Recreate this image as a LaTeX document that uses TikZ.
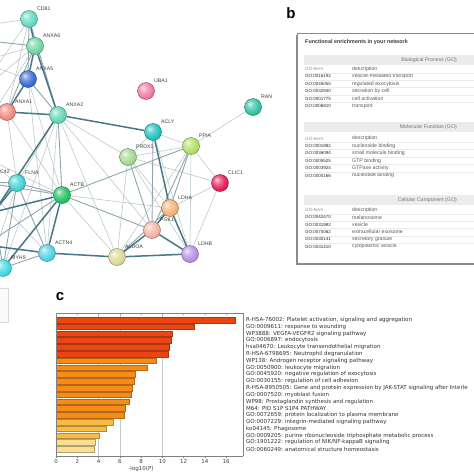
\documentclass[tikz,border=0pt]{standalone}
\usepackage{fontspec}
\setmainfont{Liberation Sans}
\newfontfamily\dejavu{DejaVu Sans}
\usetikzlibrary{shadings}
\makeatletter
\pgfdeclareradialshading[tikz@ball]{softball}{\pgfpoint{-10bp}{10bp}}{color(0bp)=(tikz@ball!20!white); color(10bp)=(tikz@ball!65!white); color(24bp)=(tikz@ball); color(40bp)=(tikz@ball!88!black); color(62bp)=(tikz@ball!70!black)}
\makeatother
\pgfdeclarelayer{paper}
\pgfdeclarelayer{edges}
\pgfsetlayers{paper,edges,main}
\definecolor{cCD}{HTML}{62D8C4}
\definecolor{cAsix}{HTML}{72D6A4}
\definecolor{cAfive}{HTML}{3A6CD6}
\definecolor{cAone}{HTML}{F08A80}
\definecolor{cAtwo}{HTML}{62D8B4}
\definecolor{cUBA}{HTML}{F07AA2}
\definecolor{cACLY}{HTML}{22C2C2}
\definecolor{cPPIA}{HTML}{AEE064}
\definecolor{cRAN}{HTML}{34C2A2}
\definecolor{cPRDX}{HTML}{A4DA92}
\definecolor{cCLIC}{HTML}{E6205A}
\definecolor{cFLNA}{HTML}{44D2D2}
\definecolor{cACTB}{HTML}{22C262}
\definecolor{cLDHA}{HTML}{F2B272}
\definecolor{cPGK}{HTML}{F2B4A4}
\definecolor{cACTN}{HTML}{52D2E2}
\definecolor{cALDO}{HTML}{DADA94}
\definecolor{cLDHB}{HTML}{B294E2}
\definecolor{cMYH}{HTML}{44D8E2}
\definecolor{ethin}{HTML}{BAC6CA}
\definecolor{emid}{HTML}{8EA6AE}
\definecolor{ethick}{HTML}{46788A}
\definecolor{bred}{HTML}{EE4412}
\definecolor{bredb}{HTML}{A8381A}
\definecolor{bor}{HTML}{F68C16}
\definecolor{borb}{HTML}{B0681A}
\definecolor{bgold}{HTML}{F8BC44}
\definecolor{bgoldb}{HTML}{AE8C3C}
\definecolor{bpale}{HTML}{FADE92}
\definecolor{bpaleb}{HTML}{B0A070}
\definecolor{bandfill}{HTML}{ECECEC}
\tikzset{
  protein/.style={circle, inner sep=0pt, minimum size=17pt, ball color=#1, shading=softball, draw=#1!60!black, line width=0.4pt},
  plabel/.style={anchor=west, inner sep=0pt, font=\fontsize{5.2}{6}\selectfont, text=black!75},
  et/.style={draw=ethin, line width=0.55pt},
  em/.style={draw=emid, line width=0.9pt},
  eT/.style={draw=ethick, line width=1.5pt},
  panel/.style={inner sep=0pt, font=\fontsize{15}{16}\bfseries\selectfont},
  goid/.style={anchor=west, inner sep=0pt, font=\fontsize{4.5}{5}\selectfont, text=black!82},
  godesc/.style={anchor=west, inner sep=0pt, font=\fontsize{5.2}{6}\selectfont, text=black!65},
  gohead/.style={anchor=west, inner sep=0pt, font=\fontsize{4.6}{5}\itshape\selectfont, text=black!45},
  band/.style={fill=bandfill, draw=none},
  bandtext/.style={anchor=east, inner sep=0pt, font=\fontsize{5.2}{6}\selectfont, text=black!55},
  barr/.style={fill=bred, draw=bredb, line width=0.4pt},
  baro/.style={fill=bor, draw=borb, line width=0.4pt},
  barg/.style={fill=bgold, draw=bgoldb, line width=0.4pt},
  barp/.style={fill=bpale, draw=bpaleb, line width=0.4pt},
  term/.style={anchor=west, inner sep=0pt, font=\dejavu\fontsize{5.5}{6.5}\selectfont, text=black!80},
  tick/.style={anchor=north, inner sep=0pt, font=\dejavu\fontsize{5.5}{6.5}\selectfont, text=black!75}
}
\begin{document}
\begin{tikzpicture}[x=1pt,y=-1pt]
\useasboundingbox (0,0) rectangle (474,474);
\begin{pgfonlayer}{paper}
\fill[white] (0,0) rectangle (474,474);
\end{pgfonlayer}

% ---------------- panel a: network ----------------
\node[protein=cCD] (CD81) at (29,19) {};
\node[protein=cAsix] (ANXA6) at (35,46) {};
\node[protein=cAfive] (ANXA5) at (28,79) {};
\node[protein=cAone] (ANXA1) at (7,112) {};
\node[protein=cAtwo] (ANXA2) at (58,115) {};
\node[protein=cUBA] (UBA1) at (146,91) {};
\node[protein=cACLY] (ACLY) at (153,132) {};
\node[protein=cPPIA] (PPIA) at (191,146) {};
\node[protein=cRAN] (RAN) at (253,107) {};
\node[protein=cPRDX] (PRDX1) at (128,157) {};
\node[protein=cCLIC] (CLIC1) at (220,183) {};
\node[protein=cFLNA] (FLNA) at (17,183) {};
\node[protein=cACTB] (ACTB) at (62,195) {};
\node[protein=cLDHA] (LDHA) at (170,208) {};
\node[protein=cPGK] (PGK1) at (152,230) {};
\node[protein=cACTN] (ACTN4) at (47,253) {};
\node[protein=cALDO] (ALDOA) at (117,257) {};
\node[protein=cLDHB] (LDHB) at (190,254) {};
\node[protein=cMYH] (MYH9) at (3,268) {};
\node[protein=cFLNA] (CDC42) at (-19,182) {};
\coordinate (L1) at (-20,26);
\coordinate (L2) at (-20,40);
\coordinate (L3) at (-20,62);
\coordinate (L4) at (-20,92);
\coordinate (L5) at (-20,135);
\coordinate (L6) at (-20,155);
\coordinate (X1) at (-6,212);
\coordinate (L7) at (-15,245);
\coordinate (L8) at (-20,300);

\foreach \n in {CD81,ANXA6,ANXA5,ANXA1,ANXA2,UBA1,ACLY,PPIA,RAN,PRDX1,CLIC1,FLNA,ACTB,LDHA,PGK1,ACTN4,ALDOA,LDHB,MYH9}
  \node[plabel] (l\n) at ([shift={(8,-10.5)}]\n.center) {\n};
\node[plabel] (lCDC42) at (0,171.5) {C42};

\begin{pgfonlayer}{edges}
\foreach \a/\b in {L1/CD81,L3/ANXA6,L3/ANXA5,L4/ANXA6,CD81/ANXA1,ANXA5/ACTB,ANXA5/ACTN4,ANXA1/ACTB,ANXA1/FLNA,ANXA2/PRDX1,ANXA2/PGK1,ANXA2/FLNA,ANXA2/ACTN4,ANXA2/MYH9,ANXA2/ALDOA,ACLY/PPIA,ACLY/PRDX1,ACLY/LDHB,PPIA/RAN,PPIA/PRDX1,PPIA/LDHB,PPIA/CLIC1,PPIA/ALDOA,PRDX1/LDHA,PRDX1/ALDOA,PRDX1/LDHB,PRDX1/CLIC1,CLIC1/LDHA,CLIC1/LDHB,LDHA/ACTB,ALDOA/ACTB,ACTB/L6,FLNA/L6,ACTN4/CDC42,ANXA1/L5,ANXA6/L5,CD81/L4,MYH9/L8,FLNA/L8}
  \draw[et] (\a) -- (\b);
\foreach \a/\b in {L2/ANXA6,CD81/ANXA5,CD81/ANXA2,ANXA6/ANXA1,ANXA5/ANXA2,ANXA2/ACTB,ACLY/PGK1,ACTB/PPIA,PPIA/LDHA,PPIA/PGK1,PRDX1/PGK1,LDHA/ALDOA,PGK1/ACTB,ACTB/FLNA,ACTB/CDC42,ACTB/L7,FLNA/CDC42,FLNA/ACTN4,FLNA/MYH9,ACTN4/MYH9,MYH9/X1}
  \draw[em] (\a) -- (\b);
\foreach \a/\b in {CD81/ANXA6,ANXA6/ANXA5,ANXA6/ANXA2,ANXA5/ANXA1,ANXA1/ANXA2,ANXA2/ACLY,ANXA2/X1,ACLY/LDHA,LDHA/PGK1,LDHA/LDHB,PGK1/ALDOA,PGK1/LDHB,ALDOA/LDHB,ALDOA/ACTN4,ACTB/ACTN4,ACTB/MYH9,ACTB/X1,FLNA/X1,ACTN4/L7}
  \draw[eT] (\a) -- (\b);
\end{pgfonlayer}

% partial legend box at left
\draw[draw=black!15, fill=black!2, line width=0.5pt] (-5,288) rectangle (8,322);

% ---------------- panel b ----------------
\node[panel] (pb) at (291,13) {b};
\fill[black!45] (295.5,34.5) rectangle (480,264.5);
\draw[draw=black!45, fill=white, line width=0.6pt] (297,33) rectangle (480,263);
\node[anchor=west, inner sep=0pt, font=\fontsize{5.4}{6}\bfseries\selectfont, text=black!78] (btitle) at (305,42) {Functional enrichments in your network};

\fill[band] (304,55) rectangle (480,65);
\node[bandtext] (bp) at (457,60) {Biological Process (GO)};
\fill[band] (304,122) rectangle (480,132);
\node[bandtext] (mf) at (457,127) {Molecular Function (GO)};
\fill[band] (304,195) rectangle (480,205);
\node[bandtext] (cc) at (457,200) {Cellular Component (GO)};

\foreach \y in {69,138.5,210}{
  \node[gohead] at (305,\y) {GO-term};
  \node[godesc] at (352,\y) {description};
}
\foreach \id/\de [count=\i from 1] in {GO:0016192/vesicle-mediated transport,GO:0045055/regulated exocytosis,GO:0032940/secretion by cell,GO:0001775/cell activation,GO:0006810/transport}{
  \node[goid] at (305,{69+7.4*\i}) {\id};
  \node[godesc] at (352,{69+7.4*\i}) {\de};
}
\foreach \id/\de [count=\i from 1] in {GO:0001882/nucleoside binding,GO:0036094/small molecule binding,GO:0005525/GTP binding,GO:0003924/GTPase activity,GO:0000166/nucleotide binding}{
  \node[goid] at (305,{138.5+7.4*\i}) {\id};
  \node[godesc] at (352,{138.5+7.4*\i}) {\de};
}
\foreach \id/\de [count=\i from 1] in {GO:0042470/melanosome,GO:0031982/vesicle,GO:0070062/extracellular exosome,GO:0030141/secretory granule,GO:0031410/cytoplasmic vesicle}{
  \node[goid] at (305,{210+7.3*\i}) {\id};
  \node[godesc] at (352,{210+7.3*\i}) {\de};
}
\foreach \b in {69,138.5,210}
  \foreach \k in {0,...,4}
    \draw[black!8, line width=0.3pt] (304,{\b+3.7+7.4*\k}) -- (480,{\b+3.7+7.4*\k});

% ---------------- panel c ----------------
\node[panel] (pc) at (60,297) {c};
\foreach \v in {4,6,10}
  \draw[black!22, line width=0.5pt] ({56+10.625*\v},313) -- ({56+10.625*\v},456);
\foreach \v/\c [count=\i] in {16.9/r,13.0/r,10.9/r,10.8/r,10.7/r,10.6/r,9.4/o,8.6/o,7.45/o,7.4/o,7.2/o,7.05/o,6.9/o,6.5/o,6.4/o,5.35/g,4.75/g,4.1/g,3.65/p,3.55/p}
  \draw[bar\c] (56,{317.2+6.8*(\i-1)}) rectangle ({56+10.625*\v},{322.8+6.8*(\i-1)});
\draw[black!50, line width=0.6pt] (56,456) -- (56,313) -- (243,313) -- (243,456);
\draw[black!50, line width=0.6pt] (56,456) -- (243,456);
\foreach \v in {0,2,...,16}{
  \draw[black!50, line width=0.4pt] ({56+10.625*\v},456) -- ({56+10.625*\v},458);
  \draw[black!40, line width=0.4pt] ({56+10.625*\v},313) -- ({56+10.625*\v},315);
  \node[tick] at ({56+10.625*\v},459) {\v};
}
\node[tick] (xlab) at (141,466.5) {-log10(P)};

\node[term] (t1) at (246,320) {R-HSA-76002: Platelet activation, signaling and aggregation};
\node[term] (t2) at (246,326.8) {GO:0009611: response to wounding};
\node[term] (t3) at (246,333.6) {WP3888: VEGFA-VEGFR2 signaling pathway};
\node[term] (t4) at (246,340.4) {GO:0006897: endocytosis};
\node[term] (t5) at (246,347.2) {hsa04670: Leukocyte transendothelial migration};
\node[term] (t6) at (246,354.0) {R-HSA-6798695: Neutrophil degranulation};
\node[term] (t7) at (246,360.8) {WP138: Androgen receptor signaling pathway};
\node[term] (t8) at (246,367.6) {GO:0050900: leukocyte migration};
\node[term] (t9) at (246,374.4) {GO:0045920: negative regulation of exocytosis};
\node[term] (t10) at (246,381.2) {GO:0030155: regulation of cell adhesion};
\node[term] (t11) at (246,388.0) {R-HSA-8950505: Gene and protein expression by JAK-STAT signaling after Interle};
\node[term] (t12) at (246,394.8) {GO:0007520: myoblast fusion};
\node[term] (t13) at (246,401.6) {WP98: Prostaglandin synthesis and regulation};
\node[term] (t14) at (246,408.4) {M64: PID S1P S1P4 PATHWAY};
\node[term] (t15) at (246,415.2) {GO:0072659: protein localization to plasma membrane};
\node[term] (t16) at (246,422.0) {GO:0007229: integrin-mediated signaling pathway};
\node[term] (t17) at (246,428.8) {ko04145: Phagosome};
\node[term] (t18) at (246,435.6) {GO:0009205: purine ribonucleoside triphosphate metabolic process};
\node[term] (t19) at (246,442.4) {GO:1901222: regulation of NIK/NF-kappaB signaling};
\node[term] (t20) at (246,449.2) {GO:0060249: anatomical structure homeostasis};
\end{tikzpicture}
\end{document}
